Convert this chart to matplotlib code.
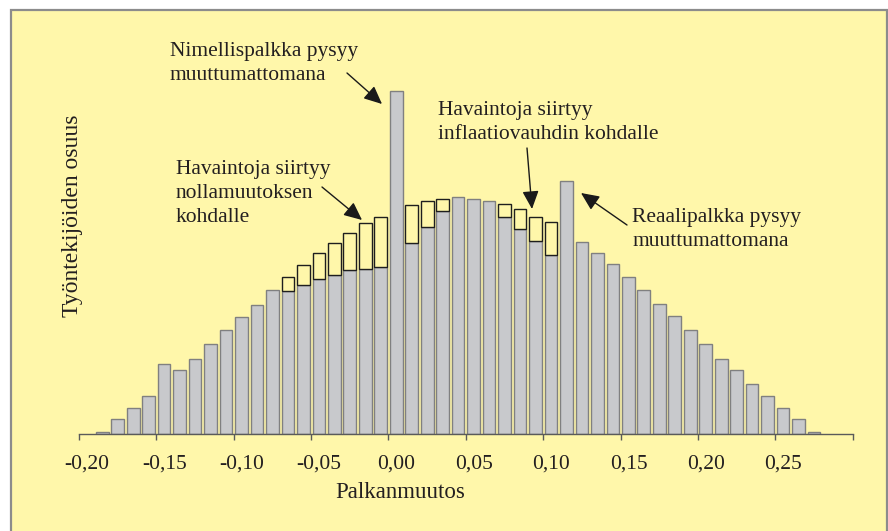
import numpy as np
import matplotlib
matplotlib.use("Agg")
import matplotlib.pyplot as plt
from matplotlib.patches import Rectangle
from matplotlib.transforms import ScaledTranslation

# ---- data (y in arbitrary share units) ----
bin_centers = [-0.185, -0.175, -0.165, -0.155, -0.145, -0.135, -0.125, -0.115,
               -0.105, -0.095, -0.085, -0.075, -0.065, -0.055, -0.045, -0.035,
               -0.025, -0.015, -0.005, 0.005, 0.015, 0.025, 0.035, 0.045,
               0.055, 0.065, 0.075, 0.085, 0.095, 0.105, 0.115, 0.125,
               0.135, 0.145, 0.155, 0.165, 0.175, 0.185, 0.195, 0.205,
               0.215, 0.225, 0.235, 0.245, 0.255, 0.265, 0.275]
observed = [1.7, 14.7, 25.7, 38, 69.7, 63.7, 75.3, 89.7, 103.7, 117.3, 129.3,
            143.7, 143.3, 149.3, 155, 158.7, 163.7, 165.3, 167.3, 343, 191.3,
            207.3, 222.7, 237, 235, 233, 217, 205.3, 193.3, 179, 253, 191.7,
            181, 169.7, 157.3, 144, 129.7, 117.7, 103.7, 90, 75.3, 63.7, 49.7,
            38, 25.7, 14.7, 2]
# bins whose observations moved away (notional height without rigidity)
shifted_centers = [-0.065, -0.055, -0.045, -0.035, -0.025, -0.015, -0.005,
                   0.015, 0.025, 0.035, 0.075, 0.085, 0.095, 0.105]
notional = [157, 169.3, 181, 191.3, 201, 211.3, 216.7,
            229.3, 233, 235, 229.7, 224.7, 217, 211.7]

tick_values = [-0.20, -0.15, -0.10, -0.05, 0.00, 0.05, 0.10, 0.15, 0.20, 0.25, 0.30]
tick_labels = ["-0,20", "-0,15", "-0,10", "-0,05", "0,00", "0,05", "0,10",
               "0,15", "0,20", "0,25", ""]

xlabel = "Palkanmuutos"
ylabel = "Työntekijöiden osuus"

# ---- style ----
W, H = 888, 531
YELLOW = "#FFF7AA"
GRAY = "#C8C9CC"
GRAY_EDGE = "#808080"
INK = "#231F20"
FONT = ["Liberation Serif", "DejaVu Serif"]
plt.rcParams["font.family"] = FONT

fig = plt.figure(figsize=(W / 100, H / 100), dpi=100)
fig.patch.set_facecolor("white")
fig.patches.append(Rectangle((11 / W, -0.05), (886.5 - 11) / W, (521 / H) + 0.05,
                             transform=fig.transFigure, facecolor=YELLOW,
                             edgecolor="#8C8C8C", lw=1.6, zorder=-10))

ax = fig.add_axes([79 / W, 97 / H, 773.7 / W, 350 / H])
ax.set_zorder(5)
ax.set_facecolor("none")
ax.set_xlim(-0.20, 0.30)
ax.set_ylim(0, 350)

bw = 0.0082
ax.bar(bin_centers, observed, width=bw, color=GRAY, edgecolor=GRAY_EDGE,
       linewidth=1.0, zorder=2)
lookup = dict(zip(bin_centers, observed))
bottoms = [lookup[c] for c in shifted_centers]
tops = [n - b for n, b in zip(notional, bottoms)]
ax.bar(shifted_centers, tops, bottom=bottoms, width=bw, color=YELLOW,
       edgecolor="#1E1E1E", linewidth=1.0, zorder=3)

for s in ["left", "right", "top"]:
    ax.spines[s].set_visible(False)
ax.spines["bottom"].set_color("#5A5A5A")
ax.spines["bottom"].set_linewidth(1.0)
ax.set_yticks([])
ax.set_xticks(tick_values)
ax.set_xticklabels(tick_labels)
ax.tick_params(axis="x", direction="out", length=4, width=1.0, color="#5A5A5A",
               labelsize=15.5, labelcolor=INK, pad=11)
off = ScaledTranslation(8 / 100, 0, fig.dpi_scale_trans)
for lab in ax.get_xticklabels():
    lab.set_transform(lab.get_transform() + off)

fig.text(400 / W, 1 - 492 / H, xlabel, ha="center", va="center",
         fontsize=16.5, color=INK)
fig.text(72 / W, 1 - 216 / H, ylabel, ha="center", va="center",
         rotation=90, fontsize=17, color=INK)


def px(x, y):
    return ((x - 79) / 773.7 * 0.5 - 0.20, 434 - y)


arrow = dict(arrowstyle="-|>,head_length=0.55,head_width=0.25", color="#1A1A1A",
             lw=1.0, mutation_scale=20, shrinkA=0, shrinkB=0)
# text position = (left edge, baseline of last line) in figure pixels
notes = [
    ("Nimellispalkka pysyy\nmuuttumattomana", (170, 80), (347, 73), (382, 104)),
    ("Havaintoja siirtyy\nnollamuutoksen\nkohdalle", (176, 222), (322, 187), (362, 220)),
    ("Havaintoja siirtyy\ninflaatiovauhdin kohdalle", (438, 139), (527, 148), (532, 209)),
    ("Reaalipalkka pysyy\nmuuttumattomana", (632, 246), (627, 225), (581, 193)),
]
for txt, tpos, a0, a1 in notes:
    ax.text(*px(*tpos), txt, ha="left", va="baseline", fontsize=15.5,
            color=INK, linespacing=1.35, zorder=5)
    ax.annotate("", xy=px(*a1), xytext=px(*a0), arrowprops=arrow, zorder=6,
                annotation_clip=False)

fig.savefig("out.png", dpi=100, facecolor="white")
